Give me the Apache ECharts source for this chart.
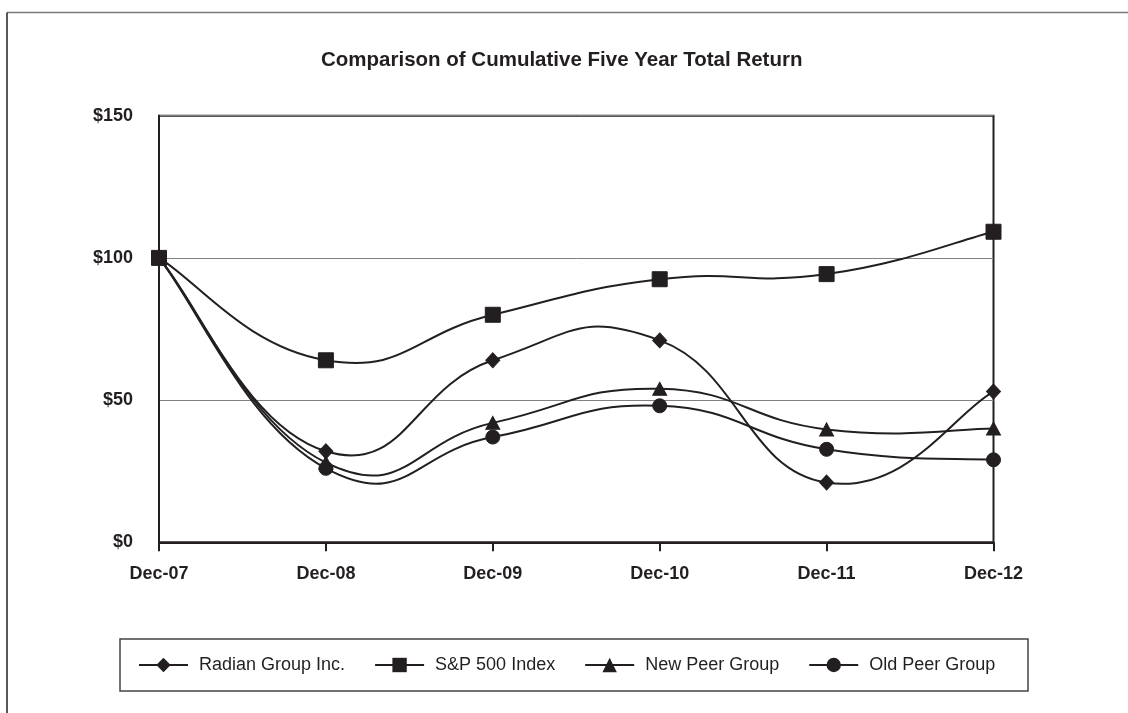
<!DOCTYPE html>
<html>
<head>
<meta charset="utf-8">
<script src="https://cdn.jsdelivr.net/npm/echarts@6/dist/echarts.min.js"></script>
<style>
html,body{margin:0;padding:0;background:#fff;}
#main{width:1128px;height:713px;}
</style>
</head>
<body>
<div id="main"></div>
<script>
const categories = ['Dec-07','Dec-08','Dec-09','Dec-10','Dec-11','Dec-12'];
const radian = [100, 32, 64, 71, 21, 53];
const sp500 = [100, 64, 80, 92.5, 94.3, 109.2];
const newPeer = [100, 28, 42, 54, 39.7, 40];
const oldPeer = [100, 26, 37, 48, 32.7, 29];
const yTicks = [0, 50, 100, 150];

const ink = '#231f20';
const font = 'Liberation Sans, Arial, Helvetica, sans-serif';

// marker-only line series (the smooth curve is drawn by a custom series through the axes)
function mk(name, data, symbol, size) {
  return {
    name: name, type: 'line', data: data, z: 3,
    symbol: symbol, symbolSize: size, showSymbol: true,
    lineStyle: {color: ink, width: 0, opacity: 0},
    itemStyle: {color: ink, borderColor: ink, opacity: 1},
    emphasis: {disabled: true}
  };
}

// Excel-like smoothed curve (cardinal spline) drawn via api.coord
function curve(vals) {
  const n = vals.length;
  return {
    type: 'custom', silent: true, z: 1,
    data: vals.slice(0, n - 1).map(function (v, i) { return [i, v]; }),
    renderItem: function (params, api) {
      const i = params.dataIndex;
      const P = function (j) {
        const c = Math.max(0, Math.min(n - 1, j));
        return api.coord([c, vals[c]]);
      };
      const p0 = P(i - 1), p1 = P(i), p2 = P(i + 1), p3 = P(i + 2);
      const k = 0.24;
      return {
        type: 'bezierCurve',
        shape: {
          x1: p1[0], y1: p1[1], x2: p2[0], y2: p2[1],
          cpx1: p1[0] + k * (p2[0] - p0[0]), cpy1: p1[1] + k * (p2[1] - p0[1]),
          cpx2: p2[0] - k * (p3[0] - p1[0]), cpy2: p2[1] - k * (p3[1] - p1[1])
        },
        style: {stroke: ink, lineWidth: 2, fill: null}
      };
    }
  };
}

const chart = echarts.init(document.getElementById('main'), null, {renderer: 'canvas'});
chart.setOption({
  animation: false,
  backgroundColor: '#fff',
  title: {
    text: 'Comparison of Cumulative Five Year Total Return',
    left: 316, top: 45,
    textStyle: {fontFamily: font, fontWeight: 'bold', fontSize: 20.5, color: ink}
  },
  grid: {
    left: 159, right: 134.5, top: 115.7, bottom: 170.7,
    show: true, borderColor: ink, borderWidth: 2, backgroundColor: 'transparent'
  },
  xAxis: {
    type: 'category', data: categories, boundaryGap: false,
    axisLine: {lineStyle: {color: ink, width: 2}},
    axisTick: {show: true, interval: 0, length: 9, lineStyle: {color: ink, width: 2}},
    axisLabel: {margin: 23, interval: 0, fontFamily: font, fontWeight: 'bold', fontSize: 18, color: ink},
    splitLine: {show: false}
  },
  yAxis: {
    type: 'value', min: yTicks[0], max: yTicks[yTicks.length - 1], interval: 50,
    axisLine: {show: true, lineStyle: {color: ink, width: 2}},
    axisTick: {show: false},
    axisLabel: {margin: 26, fontFamily: font, fontWeight: 'bold', fontSize: 18, color: ink,
      formatter: function (v) { return '$' + v; }},
    splitLine: {show: true, lineStyle: {color: '#808080', width: 1}}
  },
  legend: {
    left: 133, top: 651,
    itemWidth: 49, itemHeight: 18, itemGap: 29,
    lineStyle: {color: ink, width: 2, opacity: 1},
    textStyle: {fontFamily: font, fontSize: 18, color: ink, padding: [0, 0, 0, 6]},
    data: ['Radian Group Inc.', 'S&P 500 Index', 'New Peer Group', 'Old Peer Group']
  },
  graphic: [
    {type: 'line', shape: {x1: 7, y1: 12.5, x2: 1128, y2: 12.5}, style: {stroke: '#7a7a7a', lineWidth: 1.5}, silent: true},
    {type: 'line', shape: {x1: 7, y1: 12.5, x2: 7, y2: 713}, style: {stroke: '#222', lineWidth: 1.5}, silent: true},
    {type: 'rect', shape: {x: 120, y: 639, width: 908, height: 52}, style: {fill: 'none', stroke: '#444', lineWidth: 1.5}, silent: true}
  ],
  series: [
    curve(radian), curve(sp500), curve(newPeer), curve(oldPeer),
    mk('Radian Group Inc.', radian, 'diamond', [14, 15]),
    mk('S&P 500 Index', sp500, 'rect', 15),
    mk('New Peer Group', newPeer, 'triangle', [14, 13]),
    mk('Old Peer Group', oldPeer, 'circle', 14)
  ]
});
</script>
</body>
</html>
